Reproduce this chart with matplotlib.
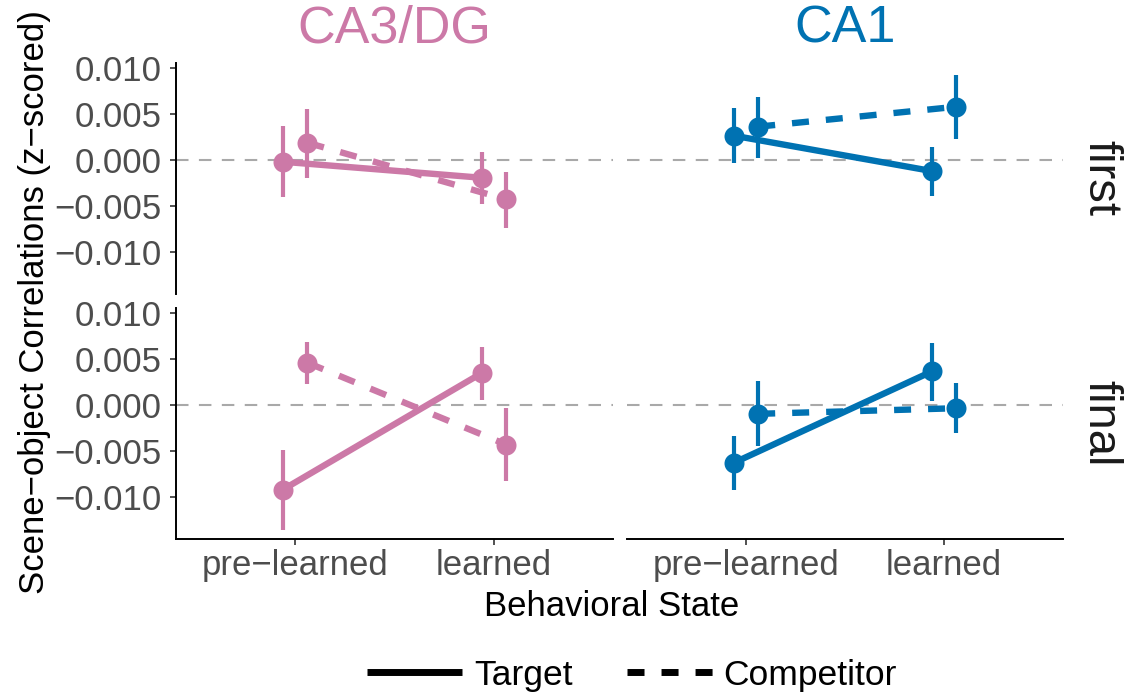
import numpy as np
import matplotlib
matplotlib.use("Agg")
import matplotlib.pyplot as plt
from matplotlib.lines import Line2D

plt.rcParams["font.family"] = ["Liberation Sans", "DejaVu Sans"]

# Facet layout: rows are sessions, columns are regions
sessions = ["first", "final"]
regions = ["CA3/DG", "CA1"]
states = ["pre\u2212learned", "learned"]
region_colors = ["#CC79A7", "#0072B2"]

# Values indexed as [session][region][state]
target_mean = [[[-0.00021, -0.00195], [0.00263, -0.00122]],
               [[-0.00923, 0.00344], [-0.00632, 0.00363]]]
target_lo = [[[-0.00408, -0.00481], [-0.00038, -0.00391]],
             [[-0.01362, 0.00054], [-0.00926, 0.00047]]]
target_hi = [[[0.00371, 0.00088], [0.00561, 0.00136]],
             [[-0.00490, 0.00627], [-0.00334, 0.00671]]]

competitor_mean = [[[0.00186, -0.00430], [0.00361, 0.00578]],
                   [[0.00458, -0.00432], [-0.00098, -0.00037]]]
competitor_lo = [[[-0.00195, -0.00746], [0.00016, 0.00227]],
                 [[0.00229, -0.00832], [-0.00451, -0.00309]]]
competitor_hi = [[[0.00550, -0.00130], [0.00687, 0.00924]],
                 [[0.00682, -0.00037], [0.00254, 0.00235]]]

y_ticks = [-0.010, -0.005, 0.000, 0.005, 0.010]

W, H = 1124, 696
fig = plt.figure(figsize=(W / 100, H / 100), dpi=100)

col_px = [(176, 613), (627, 1063)]
row_px = [(63, 293.5), (308, 538.5)]

dodge = 0.062
lw_line = 4.6
dash = (0, (2.66, 2.66))
tick_col = "#4D4D4D"
fs = 25

for r, sess in enumerate(sessions):
    for c, reg in enumerate(regions):
        x0, x1 = col_px[c]
        y0, y1 = row_px[r]
        ax = fig.add_axes([x0 / W, 1 - y1 / H, (x1 - x0) / W, (y1 - y0) / H])
        ax.set_xlim(0.4, 2.6)
        ax.set_ylim(-0.01455, 0.01054)
        col = region_colors[c]
        xpos = np.arange(1, len(states) + 1)

        ax.axhline(0, color="#A9A9A9", lw=1.5, ls=(0, (6, 5)), zorder=1)

        xt = xpos - dodge
        xc = xpos + dodge
        ax.plot(xt, target_mean[r][c], color=col, lw=lw_line, solid_capstyle="butt", zorder=2)
        ax.plot(xc, competitor_mean[r][c], color=col, lw=lw_line, ls=dash, zorder=2)
        ax.vlines(xt, target_lo[r][c], target_hi[r][c], color=col, lw=3.0, zorder=3)
        ax.vlines(xc, competitor_lo[r][c], competitor_hi[r][c], color=col, lw=3.0, zorder=3)
        ax.plot(xt, target_mean[r][c], "o", color=col, ms=14.4, mew=0, zorder=4)
        ax.plot(xc, competitor_mean[r][c], "o", color=col, ms=14.4, mew=0, zorder=4)

        for s in ["top", "right"]:
            ax.spines[s].set_visible(False)
        ax.spines["left"].set_linewidth(1.4)
        ax.spines["bottom"].set_linewidth(1.4)
        ax.tick_params(width=1.2, length=4.5, color="#333333", labelcolor=tick_col,
                       labelsize=fs, pad=3)
        ax.tick_params(axis="y", pad=6)

        ax.set_xticks(xpos)
        if r == 1:
            ax.set_xticklabels(states)
        else:
            ax.spines["bottom"].set_visible(False)
            ax.tick_params(axis="x", bottom=False, labelbottom=False)

        ax.set_yticks(y_ticks)
        if c == 0:
            ax.set_yticklabels([f"{v:.3f}".replace("-", "\u2212") for v in y_ticks])
        else:
            ax.spines["left"].set_visible(False)
            ax.tick_params(axis="y", left=False, labelleft=False)

        if r == 0:
            fig.text((x0 + x1) / 2 / W, 1 - 29 / H, reg, color=col, fontsize=37.5,
                     ha="center", va="center")
        if c == 1:
            fig.text(1100 / W, 1 - (y0 + y1) / 2 / H, sess, color="#1A1A1A",
                     fontsize=34, rotation=-90, ha="center", va="center")

fig.text(612 / W, 1 - 607 / H, "Behavioral State", fontsize=fs, ha="center", va="center")
fig.text(35 / W, 1 - 302 / H, "Scene\u2212object Correlations (z\u2212scored)", fontsize=fs,
         rotation=90, ha="center", va="center")

# Line-type key, one entry per box so each key can be sized on its own
leg_fs = 25.5
em_px = leg_fs * 100 / 72
key_lw = 5.0
key_specs = [
    ("Target", dict(ls="-", solid_capstyle="butt"), 367, 95, 12),
    ("Competitor", dict(ls=(0, (2.45, 2.45))), 627, 86, 10),
]
for label, style, left_px, key_px, pad_px in key_specs:
    handle = Line2D([], [], color="black", lw=key_lw, **style)
    leg = fig.legend([handle], [label], loc="center left",
                     bbox_to_anchor=(left_px / W, 1 - 675 / H), frameon=False,
                     fontsize=leg_fs, handlelength=key_px / em_px,
                     handletextpad=pad_px / em_px, borderpad=0, borderaxespad=0)

fig.savefig("out.png", dpi=100)
